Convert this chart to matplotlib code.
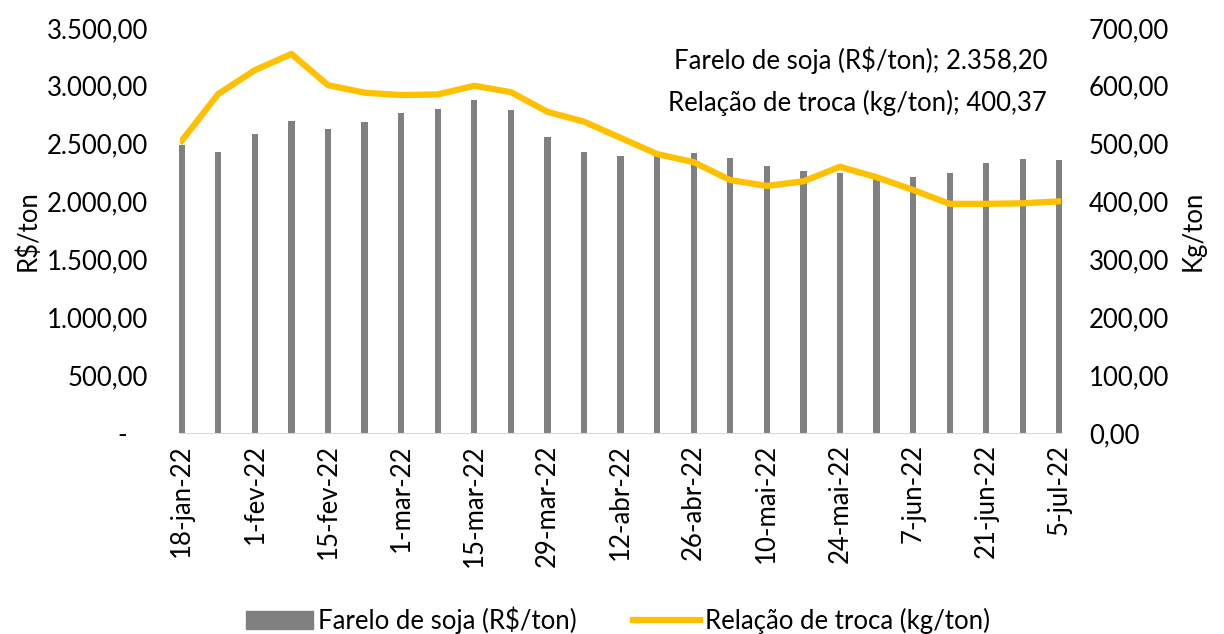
import matplotlib
matplotlib.use("Agg")
import matplotlib.pyplot as plt
from matplotlib.ticker import FuncFormatter
from matplotlib.patches import Patch
from matplotlib.lines import Line2D

plt.rcParams['font.family'] = ['Lato', 'DejaVu Sans']

# dados semanais
datas = ["18-jan-22", "25-jan-22", "1-fev-22", "8-fev-22", "15-fev-22", "22-fev-22",
         "1-mar-22", "8-mar-22", "15-mar-22", "22-mar-22", "29-mar-22", "5-abr-22",
         "12-abr-22", "19-abr-22", "26-abr-22", "3-mai-22", "10-mai-22", "17-mai-22",
         "24-mai-22", "31-mai-22", "7-jun-22", "14-jun-22", "21-jun-22", "28-jun-22",
         "5-jul-22"]
farelo = [2490, 2428, 2584, 2696, 2627, 2688, 2765, 2800, 2878, 2791, 2558, 2428,
          2394, 2395, 2420, 2377, 2307, 2264, 2247, 2203, 2212, 2247, 2333, 2368,
          2358.20]
relacao = [505, 586, 627, 655, 601, 588, 584, 585, 600, 589, 555, 538,
           510, 482, 468, 437, 427, 435, 460, 442, 420, 396, 396, 397, 400.37]

FS = 18.5

def fmt_br(v, pos=None):
    s = f"{v:,.2f}"
    return s.replace(",", "X").replace(".", ",").replace("X", ".")

def fmt_left(v, pos=None):
    if v == 0:
        return "-   "
    return fmt_br(v)

fig = plt.figure(figsize=(12.24, 6.34), dpi=100)
ax = fig.add_axes([0.147, 0.317, 0.72, 0.639])
ax2 = ax.twinx()

x = list(range(len(datas)))
ax.bar(x, farelo, width=0.17, color="#808080", zorder=2, clip_on=False)
ax2.plot(x, relacao, color="#FFC000", lw=4.5, solid_joinstyle="round", zorder=3)

ax.set_xlim(-0.05, len(datas) - 0.95)
ax.set_ylim(0, 3500)
ax2.set_ylim(0, 700)
ax.set_yticks(range(0, 3501, 500))
ax2.set_yticks(range(0, 701, 100))
ax.yaxis.set_major_formatter(FuncFormatter(fmt_left))
ax2.yaxis.set_major_formatter(FuncFormatter(fmt_br))

ax.set_xticks(x[::2])
ax.set_xticklabels(datas[::2], rotation=90, fontsize=FS)
ax.tick_params(axis="y", labelsize=FS, length=0, pad=23)
ax2.tick_params(axis="y", labelsize=FS, length=0, pad=20)
ax.tick_params(axis="x", length=0, pad=8)

for a in (ax, ax2):
    for s in a.spines.values():
        s.set_visible(False)
ax.spines["bottom"].set_visible(True)
ax.spines["bottom"].set_color("#d9d9d9")

ax.set_ylabel("R$/ton", fontsize=FS, labelpad=4)
ax2.set_ylabel("Kg/ton", fontsize=FS, labelpad=8)

ax2.text(1047 / 1224, 1 - 60 / 634, "Farelo de soja (R$/ton); 2.358,20",
         transform=fig.transFigure, ha="right", va="center", fontsize=FS)
ax2.text(1047 / 1224, 1 - 103 / 634, "Relação de troca (kg/ton); 400,37",
         transform=fig.transFigure, ha="right", va="center", fontsize=FS)

handles = [Patch(color="#808080"), Line2D([0], [0], color="#FFC000", lw=4.5)]
fig.legend(handles, ["Farelo de soja (R$/ton)", "Relação de troca (kg/ton)"],
           loc="center", bbox_to_anchor=(0.505, 1 - 620 / 634), ncol=2, frameon=False,
           fontsize=FS, handlelength=2.6, handletextpad=0.2, columnspacing=2.2)

fig.savefig("out.png", dpi=100)
